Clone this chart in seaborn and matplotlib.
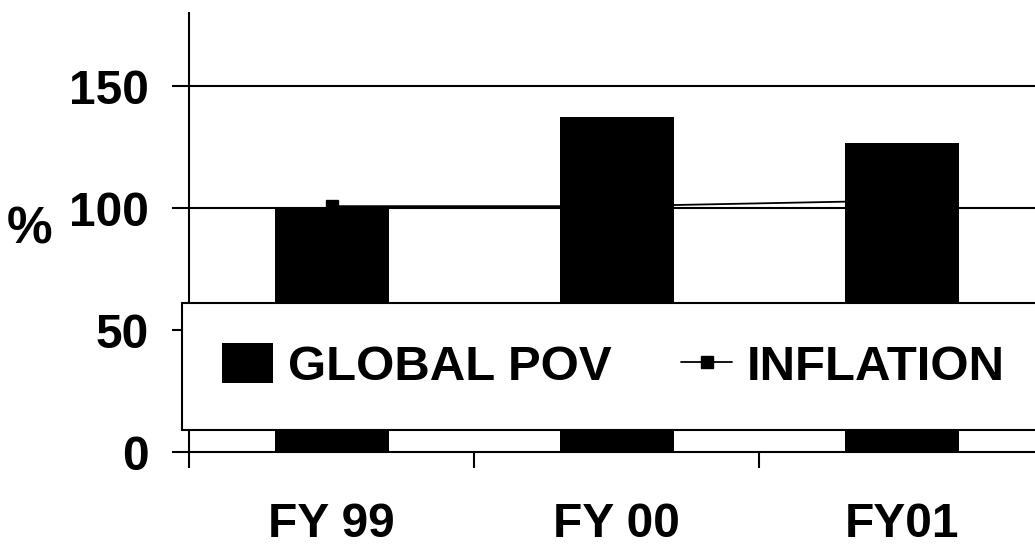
import numpy as np
import matplotlib
matplotlib.use('Agg')
import matplotlib.pyplot as plt
import seaborn as sns
from matplotlib.patches import Patch
from matplotlib.lines import Line2D

# values
years = ['FY 99', 'FY 00', 'FY01']
global_pov = [100, 137.5, 126.5]
inflation = [100.8, 100.8, 103.1]
y_ticks = [0, 50, 100, 150]
series_names = ['GLOBAL POV', 'INFLATION']

sns.set_theme(style='white')
plt.rcParams['font.family'] = ['Liberation Sans', 'DejaVu Sans']
plt.rcParams['font.weight'] = 'bold'
plt.rcParams['text.color'] = 'black'

W, H = 1035, 546
fig = plt.figure(figsize=(W / 100, H / 100), dpi=100)
# axes in pixel terms: y axis at x=189, x axis at y=452, top at y=13, 3 categories of 285px
ax = fig.add_axes([189 / W, (H - 452) / H, 855 / W, (452 - 13) / H])

sns.barplot(x=years, y=global_pov, color='black', width=0.4, saturation=1,
            edgecolor='none', ax=ax, zorder=2)
sns.pointplot(x=years, y=inflation, color='black', markers='s', linestyles='-',
              ax=ax, zorder=3, markersize=8, linewidth=1.3)

ax.set_xlim(-0.5, 2.5)
ax.set_ylim(0, 180)
ax.set_yticks(y_ticks)
ax.set_yticklabels([str(t) for t in y_ticks])
for t in [100, 150]:
    ax.axhline(t, color='black', lw=1.5, zorder=1)

for s in ['top', 'right']:
    ax.spines[s].set_visible(False)
for s in ['left', 'bottom']:
    ax.spines[s].set_color('black')
    ax.spines[s].set_linewidth(1.5)
    ax.spines[s].set_zorder(1)

ax.tick_params(axis='y', direction='out', length=12, width=1.5, color='black',
               pad=17, labelsize=34.5, left=True)
ax.tick_params(axis='x', which='major', length=0, pad=36, labelsize=34.5)
ax.set_xticks([-0.5, 0.5, 1.5, 2.5], minor=True)
ax.tick_params(axis='x', which='minor', direction='out', length=11.5, width=1.5,
               color='black', bottom=True)
for lab in ax.get_xticklabels() + ax.get_yticklabels():
    lab.set_fontweight('bold')
    lab.set_color('black')
ax.set_xlabel('')
ax.set_ylabel('')

fig.text(30 / W, 1 - 230 / H, '%', fontsize=37, fontweight='bold',
         ha='center', va='center', color='black')

handles = [Patch(facecolor='black', edgecolor='none'),
           Line2D([], [], color='black', lw=1.3, marker='s', markersize=8)]
leg = fig.legend(handles, series_names, ncol=2, mode='expand',
                 bbox_to_anchor=(182 / W, (H - 427) / H, (1045 - 182) / W, 124 / H),
                 loc='upper left', frameon=True, fancybox=False, shadow=False,
                 framealpha=1, edgecolor='black', borderpad=0.82,
                 handlelength=1.04, handleheight=0.86, handletextpad=0.29,
                 borderaxespad=0, labelcolor='black',
                 prop={'family': ['Liberation Sans', 'DejaVu Sans'],
                       'weight': 'bold', 'size': 35.4})
leg.get_frame().set_linewidth(1.5)
leg.set_zorder(5)

fig.savefig('out.png', dpi=100)
